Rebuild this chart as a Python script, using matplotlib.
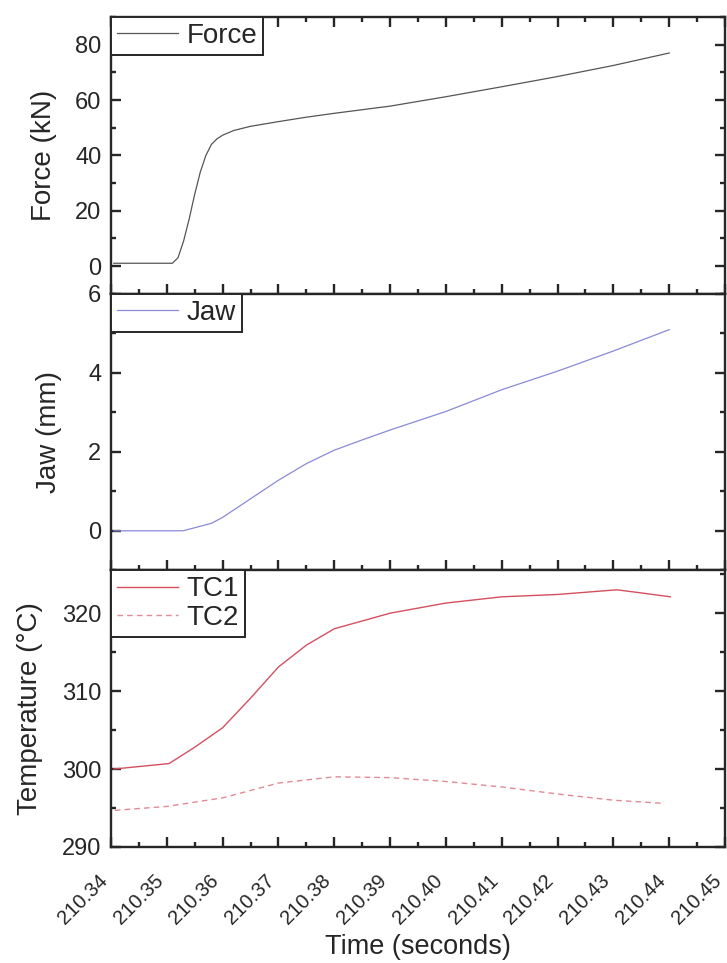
import numpy as np
import matplotlib
matplotlib.use('Agg')
import matplotlib.pyplot as plt
from matplotlib.ticker import MultipleLocator, FormatStrFormatter

plt.rcParams['font.family'] = ['Liberation Sans', 'DejaVu Sans']

# force (kN)
force_t = [210.3405, 210.351, 210.352, 210.353, 210.354, 210.355, 210.356, 210.357,
           210.358, 210.359, 210.360, 210.362, 210.365, 210.370, 210.375, 210.380,
           210.385, 210.390, 210.395, 210.400, 210.410, 210.420, 210.430, 210.440]
force = [1.0, 1.0, 3.0, 9.0, 17.0, 26.0, 34.0, 40.0, 44.0, 46.0, 47.3, 49.0, 50.5,
         52.2, 53.8, 55.2, 56.5, 57.8, 59.5, 61.2, 64.8, 68.5, 72.5, 77.0]

# jaw (mm)
jaw_t = [210.3405, 210.3529, 210.358, 210.360, 210.365, 210.370, 210.375, 210.380,
         210.385, 210.390, 210.400, 210.410, 210.420, 210.430, 210.440]
jaw = [0.0, 0.0, 0.19, 0.34, 0.81, 1.28, 1.70, 2.04, 2.30, 2.55, 3.02, 3.57, 4.04,
       4.55, 5.09]

# thermocouples (°C)
tc1_t = [210.3405, 210.3504, 210.355, 210.360, 210.365, 210.370, 210.375, 210.380,
         210.385, 210.390, 210.400, 210.410, 210.420, 210.4306, 210.435, 210.4402]
tc1 = [300.0, 300.7, 302.8, 305.3, 309.1, 313.1, 315.9, 318.0, 319.0, 320.0, 321.3,
       322.1, 322.4, 323.0, 322.6, 322.1]
tc2_t = [210.3407, 210.350, 210.360, 210.370, 210.380, 210.390, 210.400, 210.410,
         210.420, 210.430, 210.4389]
tc2 = [294.7, 295.2, 296.3, 298.2, 299.0, 298.9, 298.4, 297.7, 296.8, 296.0, 295.6]

xticks = np.round(np.arange(210.34, 210.451, 0.01), 2)

dark = '#262626'
fig, axs = plt.subplots(3, 1, figsize=(7.27, 9.63), dpi=100, sharex=True)
fig.subplots_adjust(left=0.1527, right=0.9973, top=0.9823, bottom=0.1205, hspace=0)

axs[0].plot(force_t, force, color='#555555', linewidth=0.9, label='Force')
axs[1].plot(jaw_t, jaw, color='#8a8ad8', linewidth=0.9, label='Jaw')
axs[2].plot(tc1_t, tc1, color='#d4505f', linewidth=1.0, label='TC1')
axs[2].plot(tc2_t, tc2, color='#e28a94', linewidth=1.0, linestyle=(0, (4, 3)), label='TC2')

axs[0].set_ylim(-10, 90)
axs[0].set_yticks([0, 20, 40, 60, 80])
axs[0].yaxis.set_minor_locator(MultipleLocator(10))
axs[0].set_ylabel('Force (kN)', fontsize=20, color=dark)

axs[1].set_ylim(-1, 6)
axs[1].set_yticks([0, 2, 4, 6])
axs[1].yaxis.set_minor_locator(MultipleLocator(1))
axs[1].set_ylabel('Jaw (mm)', fontsize=20, color=dark)

axs[2].set_ylim(290, 325.5)
axs[2].set_yticks([290, 300, 310, 320])
axs[2].yaxis.set_minor_locator(MultipleLocator(5))
axs[2].set_ylabel('Temperature (°C)', fontsize=20, color=dark)

axs[2].set_xlim(210.34, 210.45)
axs[2].set_xticks(xticks)
axs[2].xaxis.set_minor_locator(MultipleLocator(0.005))
axs[2].xaxis.set_major_formatter(FormatStrFormatter('%.2f'))
axs[2].set_xlabel('Time (seconds)', fontsize=19.5, color=dark)
axs[2].xaxis.set_label_coords(0.5, -0.315)

label_x = [-0.088, -0.080, -0.111]
for i, ax in enumerate(axs):
    for sp in ax.spines.values():
        sp.set_linewidth(1.7)
        sp.set_color(dark)
    ax.tick_params(which='both', direction='in', right=True, top=(i == 0),
                   color=dark, width=1.7, labelcolor=dark, labelsize=17)
    ax.tick_params(which='major', length=7)
    ax.tick_params(which='minor', length=3.5)
    ax.tick_params(axis='y', pad=7)
    ax.yaxis.set_label_coords(label_x[i], 0.5)
    leg = ax.legend(loc='upper left', borderaxespad=0, fontsize=20, frameon=True,
                    fancybox=False, framealpha=1, handlelength=2.2, handletextpad=0.3,
                    borderpad=0.22, labelspacing=0.1)
    leg.get_frame().set_edgecolor(dark)
    leg.get_frame().set_linewidth(1.4)
    for txt in leg.get_texts():
        txt.set_color(dark)

axs[2].tick_params(axis='x', which='major', pad=17, labelsize=14.5)
for lbl in axs[2].get_xticklabels():
    lbl.set_rotation(45)
    lbl.set_ha('right')

fig.savefig('out.png', dpi=100)
